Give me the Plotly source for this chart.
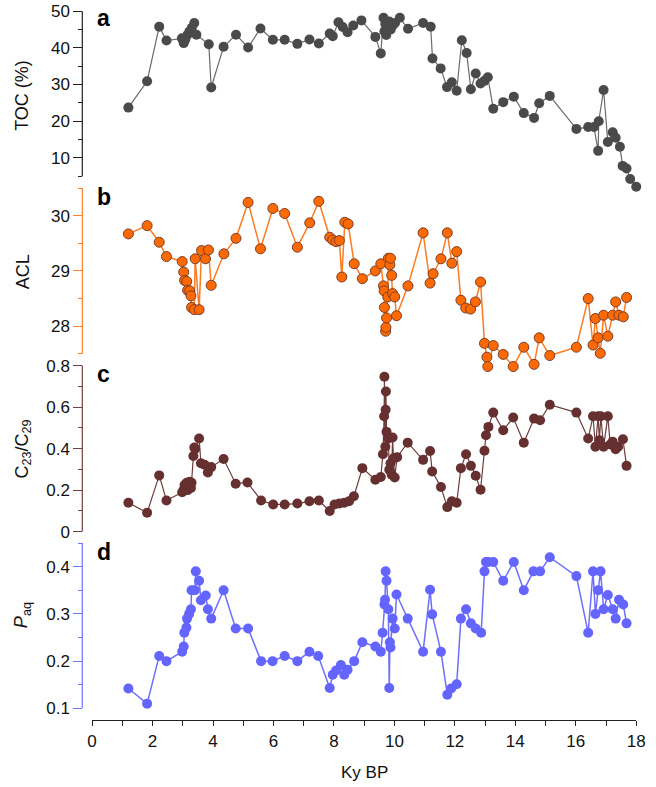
import plotly.graph_objects as go

# ---------------- data ----------------
toc_age = [1.20, 1.82, 2.22, 2.46, 2.97, 3.03, 3.08, 3.15, 3.22, 3.30, 3.38, 3.45, 3.86, 3.94,
           4.35, 4.76, 5.16, 5.57, 5.98, 6.37, 6.79, 7.19, 7.50, 7.86, 7.96, 8.15, 8.29, 8.45,
           8.64, 8.91, 9.37, 9.55, 9.64, 9.67, 9.70, 9.73, 9.78, 9.83, 9.88, 9.95, 10.02, 10.18,
           10.45, 10.95, 11.20, 11.26, 11.53, 11.74, 11.90, 12.06, 12.23, 12.39, 12.53, 12.69,
           12.85, 12.98, 13.09, 13.27, 13.60, 13.95, 14.28, 14.62, 14.79, 15.14, 16.02, 16.41,
           16.60, 16.74, 16.76, 16.92, 17.06, 17.22, 17.32, 17.46, 17.55, 17.68, 17.80, 18.00]
toc = [23.7, 30.9, 45.8, 42.0, 42.6, 41.3, 42.2, 43.5, 44.5, 45.5, 46.8, 43.6, 41.0, 29.2,
       40.3, 43.6, 40.1, 45.3, 42.2, 42.2, 41.1, 42.3, 41.2, 43.9, 43.2, 47.0, 45.7, 44.3,
       46.1, 47.5, 43.0, 38.5, 48.2, 44.5, 46.5, 43.5, 45.8, 47.2, 45.0, 46.2, 46.8, 48.2,
       45.2, 46.8, 45.8, 37.1, 34.4, 29.3, 30.6, 28.3, 42.1, 38.6, 28.7, 33.0,
       30.3, 31.0, 32.0, 23.4, 25.2, 26.7, 22.2, 20.9, 24.9, 26.9, 17.9, 18.4,
       18.4, 11.9, 20.0, 28.5, 14.3, 17.0, 15.5, 13.0, 7.8, 7.1, 4.2, 2.1]

acl_age = [1.20, 1.82, 2.22, 2.46, 2.98, 3.03, 3.06, 3.13, 3.16, 3.23, 3.27, 3.29, 3.38, 3.41,
           3.54, 3.62, 3.75, 3.85, 3.94, 4.36, 4.76, 5.16, 5.57, 5.98, 6.37, 6.79, 7.20, 7.50,
           7.86, 7.96, 8.07, 8.18, 8.26, 8.36, 8.47, 8.67, 8.94, 9.37, 9.55, 9.64, 9.66, 9.67,
           9.71, 9.72, 9.74, 9.78, 9.80, 9.85, 9.87, 9.91, 9.94, 10.01, 10.07, 10.45, 10.95,
           11.18, 11.28, 11.54, 11.75, 11.90, 12.06, 12.20, 12.36, 12.52, 12.68, 12.85, 12.98,
           13.06, 13.09, 13.27, 13.60, 13.93, 14.28, 14.62, 14.79, 15.14, 16.02, 16.41, 16.57,
           16.65, 16.74, 16.81, 16.92, 17.06, 17.22, 17.32, 17.43, 17.57, 17.68]
acl = [29.67, 29.82, 29.52, 29.26, 29.17, 28.98, 28.83, 28.81, 28.65, 28.64, 28.55, 28.34, 28.30, 29.22,
       28.30, 29.37, 29.22, 29.38, 28.74, 29.31, 29.59, 30.24, 29.40, 30.13, 30.04, 29.43, 29.87, 30.26,
       29.61, 29.56, 29.53, 29.55, 28.89, 29.88, 29.85, 29.13, 28.86, 29.00, 29.13, 28.73, 28.64, 28.34,
       27.91, 27.98, 28.15, 28.53, 29.23, 29.11, 29.23, 28.92, 28.59, 28.53, 28.19, 28.73, 29.69,
       28.78, 28.95, 29.22, 29.69, 29.14, 29.35, 28.47, 28.33, 28.31, 28.44, 28.80, 27.69,
       27.44, 27.27, 27.65, 27.49, 27.27, 27.62, 27.31, 27.79, 27.47, 27.62, 28.50, 27.66,
       28.14, 27.79, 27.51, 28.20, 27.82, 28.20, 28.44, 28.20, 28.17, 28.52]

c23_age = [1.20, 1.82, 2.22, 2.46, 2.98, 3.03, 3.06, 3.13, 3.16, 3.23, 3.27, 3.29, 3.35, 3.38,
           3.41, 3.54, 3.60, 3.72, 3.83, 3.94, 4.35, 4.75, 5.14, 5.59, 5.99, 6.37, 6.79, 7.19,
           7.50, 7.86, 8.02, 8.18, 8.34, 8.50, 8.66, 8.94, 9.37, 9.55, 9.62, 9.66, 9.67, 9.70,
           9.71, 9.72, 9.74, 9.80, 9.83, 9.87, 9.91, 9.94, 9.97, 10.01, 10.09, 10.44, 10.95,
           11.18, 11.25, 11.54, 11.75, 11.90, 12.06, 12.20, 12.37, 12.53, 12.69, 12.85, 12.98,
           13.03, 13.11, 13.27, 13.60, 13.93, 14.28, 14.62, 14.82, 15.14, 16.02, 16.41, 16.57,
           16.65, 16.74, 16.78, 16.83, 16.92, 17.06, 17.14, 17.22, 17.32, 17.40, 17.56, 17.68]
c23 = [0.139, 0.091, 0.271, 0.150, 0.190, 0.202, 0.225, 0.235, 0.200, 0.240, 0.210, 0.235, 0.365, 0.406,
       0.400, 0.449, 0.330, 0.322, 0.285, 0.311, 0.350, 0.231, 0.237, 0.150, 0.131, 0.131, 0.135, 0.146,
       0.150, 0.099, 0.131, 0.135, 0.139, 0.146, 0.170, 0.306, 0.250, 0.263, 0.373, 0.556, 0.747, 0.409,
       0.588, 0.676, 0.481, 0.449, 0.298, 0.330, 0.274, 0.454, 0.354, 0.261, 0.359, 0.429, 0.346,
       0.389, 0.290, 0.215, 0.118, 0.146, 0.139, 0.306, 0.373, 0.317, 0.269, 0.202, 0.390,
       0.465, 0.505, 0.574, 0.489, 0.550, 0.429, 0.545, 0.537, 0.612, 0.574, 0.449, 0.556,
       0.409, 0.556, 0.441, 0.556, 0.409, 0.556, 0.420, 0.433, 0.397, 0.409, 0.445, 0.317]

paq_age = [1.20, 1.82, 2.22, 2.46, 2.98, 3.03, 3.05, 3.12, 3.14, 3.21, 3.27, 3.29, 3.40, 3.43,
           3.54, 3.60, 3.76, 3.83, 3.94, 4.35, 4.75, 5.16, 5.59, 5.97, 6.37, 6.79, 7.19, 7.48,
           7.86, 7.96, 8.07, 8.23, 8.34, 8.45, 8.67, 8.94, 9.37, 9.55, 9.61, 9.67, 9.69, 9.71,
           9.74, 9.80, 9.83, 9.85, 9.87, 9.94, 10.01, 10.07, 10.44, 10.95, 11.18, 11.25, 11.54,
           11.75, 11.88, 12.06, 12.20, 12.37, 12.53, 12.69, 12.87, 12.98, 13.03, 13.11, 13.27,
           13.60, 13.95, 14.28, 14.60, 14.82, 15.14, 16.02, 16.41, 16.57, 16.65, 16.74, 16.82,
           16.92, 17.06, 17.22, 17.32, 17.43, 17.57, 17.68]
paq = [0.142, 0.110, 0.211, 0.200, 0.220, 0.231, 0.260, 0.271, 0.290, 0.300, 0.310, 0.350, 0.350, 0.390,
       0.370, 0.329, 0.339, 0.310, 0.290, 0.350, 0.269, 0.269, 0.200, 0.200, 0.211, 0.200, 0.220, 0.211,
       0.143, 0.171, 0.180, 0.192, 0.171, 0.182, 0.200, 0.240, 0.231, 0.220, 0.260, 0.320, 0.330, 0.390,
       0.370, 0.310, 0.143, 0.240, 0.229, 0.290, 0.269, 0.341, 0.290, 0.220, 0.351, 0.299, 0.220,
       0.129, 0.142, 0.151, 0.290, 0.310, 0.280, 0.269, 0.260, 0.390, 0.410, 0.410, 0.410,
       0.370, 0.410, 0.350, 0.390, 0.390, 0.420, 0.380, 0.260, 0.390, 0.300, 0.350, 0.390,
       0.310, 0.340, 0.310, 0.290, 0.330, 0.320, 0.280]

x_major = [0, 2, 4, 6, 8, 10, 12, 14, 16, 18]
x_minor = [1, 3, 5, 7, 9, 11, 13, 15, 17]
toc_ticks, toc_text, toc_minor = [10, 20, 30, 40, 50], ["10", "20", "30", "40", "50"], [5, 15, 25, 35, 45]
acl_ticks, acl_text, acl_minor = [28, 29, 30], ["28", "29", "30"], [27.5, 28.5, 29.5, 30.5]
c23_ticks, c23_text, c23_minor = [0, 0.2, 0.4, 0.6, 0.8], ["0", "0.2", "0.4", "0.6", "0.8"], [0.1, 0.3, 0.5, 0.7]
paq_ticks, paq_text, paq_minor = [0.1, 0.2, 0.3, 0.4], ["0.1", "0.2", "0.3", "0.4"], [0.15, 0.25, 0.35, 0.45]

# ---------------- layout geometry (pixels) ----------------
W, H = 656, 787
X0_PX, X1_PX = 89, 645
YAX_PX = 79
XAX_PX = 722.7


def pfy(py):
    return 1 - py / H


def panel(v_a, p_a, v_b, p_b, r0, r1):
    ppu = (p_a - p_b) / (v_b - v_a)
    bot = p_a + (v_a - r0) * ppu
    top = p_a - (r1 - v_a) * ppu
    return [pfy(bot), pfy(top)], [r0, r1]


dom_a, rng_a = panel(5, 173.7, 50, 7.3, 0.5, 51.5)
dom_b, rng_b = panel(27.5, 353.0, 30.5, 185.7, 27.05, 30.6)
dom_c, rng_c = panel(0, 532.3, 0.8, 365.0, -0.04, 0.83)
dom_d, rng_d = panel(0.1, 710.7, 0.4, 567.7, 0.085, 0.46)

FONT = "Liberation Sans, Arial, Helvetica, sans-serif"
COL_A, COL_B, COL_C, COL_D = "#222222", "#FF7F2A", "#6E4141", "#7474FF"

fig = go.Figure()
fig.add_trace(go.Scatter(x=toc_age, y=toc, xaxis="x", yaxis="y", mode="lines+markers",
                         line=dict(color="#6a6a6a", width=1.2),
                         marker=dict(size=10, color="#4a4a4a"), cliponaxis=False, showlegend=False))
fig.add_trace(go.Scatter(x=acl_age, y=acl, xaxis="x", yaxis="y2", mode="lines+markers",
                         line=dict(color="#FF7A22", width=1.5),
                         marker=dict(size=10, color="#FF6A00", line=dict(color="#7A3E2C", width=1)),
                         cliponaxis=False, showlegend=False))
fig.add_trace(go.Scatter(x=c23_age, y=c23, xaxis="x", yaxis="y3", mode="lines+markers",
                         line=dict(color="#6E3C3C", width=1.2),
                         marker=dict(size=10, color="#663030"), cliponaxis=False, showlegend=False))
fig.add_trace(go.Scatter(x=paq_age, y=paq, xaxis="x", yaxis="y4", mode="lines+markers",
                         line=dict(color="#6E6EFF", width=1.5),
                         marker=dict(size=10, color="#6464FF"), cliponaxis=False, showlegend=False))


def yax(dom, rng, vals, text, minor, col):
    return dict(domain=dom, range=rng, anchor="free", position=YAX_PX / W,
                showline=False, showgrid=False, zeroline=False,
                ticks="outside", ticklen=9, tickwidth=1, tickcolor=col,
                tickmode="array", tickvals=vals, ticktext=text, ticklabeloverflow="allow",
                tickfont=dict(size=17, color="#111111", family=FONT),
                minor=dict(tickmode="array", tickvals=minor, ticks="outside", ticklen=4.5,
                           tickwidth=1, tickcolor=col, showgrid=False))


fig.update_layout(
    width=W, height=H, margin=dict(l=0, r=0, t=0, b=0),
    paper_bgcolor="white", plot_bgcolor="rgba(0,0,0,0)",
    font=dict(family=FONT, size=17, color="#111111"),
    xaxis=dict(domain=[X0_PX / W, X1_PX / W], range=[0, 18], anchor="free", position=pfy(XAX_PX),
               showline=True, linecolor="#222222", linewidth=1, showgrid=False, zeroline=False,
               ticks="outside", ticklen=5, tickwidth=1, tickcolor="#222222",
               tickmode="array", tickvals=x_major, ticktext=[str(v) for v in x_major],
               ticklabeloverflow="allow",
               tickfont=dict(size=17, color="#111111", family=FONT),
               minor=dict(tickmode="array", tickvals=x_minor, ticks="outside", ticklen=5,
                          tickwidth=1, tickcolor="#222222", showgrid=False)),
    yaxis=yax(dom_a, rng_a, toc_ticks, toc_text, toc_minor, COL_A),
    yaxis2=yax(dom_b, rng_b, acl_ticks, acl_text, acl_minor, COL_B),
    yaxis3=yax(dom_c, rng_c, c23_ticks, c23_text, c23_minor, COL_C),
    yaxis4=yax(dom_d, rng_d, paq_ticks, paq_text, paq_minor, COL_D),
)

# axis lines spanning only the nominal axis extent
for yref, lo, hi, col in [("y", 5, 50, COL_A), ("y2", 27.5, 30.5, COL_B),
                          ("y3", 0, 0.8, COL_C), ("y4", 0.1, 0.45, COL_D)]:
    fig.add_shape(type="line", xref="paper", yref=yref, x0=YAX_PX / W, x1=YAX_PX / W,
                  y0=lo, y1=hi, line=dict(color=col, width=1.2), layer="above")

# panel letters
for letter, py in [("a", 14), ("b", 195), ("c", 373), ("d", 553)]:
    fig.add_annotation(x=92 / W, y=pfy(py), xref="paper", yref="paper", text=f"<b>{letter}</b>",
                       showarrow=False, xanchor="left", yanchor="middle",
                       font=dict(size=23, color="#000000", family=FONT))

# y titles
for txt, py in [("TOC (%)", 92), ("ACL", 270), ("C<sub>23</sub>/C<sub>29</sub>", 449),
                ("<i>P</i><sub>aq</sub>", 617)]:
    fig.add_annotation(x=18 / W, y=pfy(py), xref="paper", yref="paper", text=txt, textangle=-90,
                       showarrow=False, xanchor="center", yanchor="middle",
                       font=dict(size=18, color="#111111", family=FONT))

fig.add_annotation(x=(X0_PX + X1_PX) / 2 / W, y=pfy(775), xref="paper", yref="paper", text="Ky BP",
                   showarrow=False, xanchor="center", yanchor="middle",
                   font=dict(size=17, color="#111111", family=FONT))

fig.write_html("out.html",
               config={"displayModeBar": False},
               post_script="document.body.style.margin='0px';document.body.style.overflow='hidden';")
